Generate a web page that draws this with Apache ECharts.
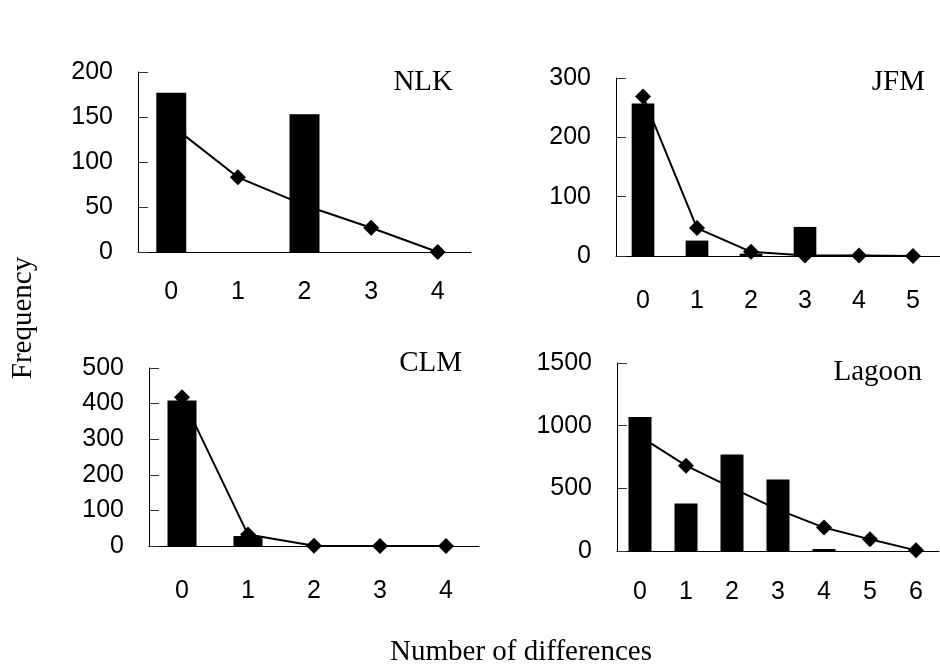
<!DOCTYPE html>
<html>
<head>
<meta charset="utf-8">
<script src="https://cdn.jsdelivr.net/npm/echarts@6/dist/echarts.min.js"></script>
<style>
    html, body { margin: 0; padding: 0; background: #fff; }
    #chart { width: 940px; height: 666px; }
</style>
</head>
<body>
<div id="chart"></div>
<script>
// categories: number of differences
var nlkCats = ['0', '1', '2', '3', '4'];
var jfmCats = ['0', '1', '2', '3', '4', '5'];
var clmCats = ['0', '1', '2', '3', '4'];
var lagoonCats = ['0', '1', '2', '3', '4', '5', '6'];

// observed frequency (bars)
var nlkObserved = [177, 0, 153, 0, 0];
var jfmObserved = [257, 26, 4, 49, 2, 0];
var clmObserved = [409, 28, 0, 0, 0];
var lagoonObserved = [1069, 378, 769, 570, 16, 0, 0];

// expected frequency (line with diamonds)
var nlkExpected = [141, 83, 52, 27, 0];
var jfmExpected = [269, 47, 7, 1, 1, 0];
var clmExpected = [418, 32, 1, 0, 0];
var lagoonExpected = [915, 681, 504, 330, 187, 93, 5];

// y axis ranges: min, max, interval
var nlkTicks = [0, 200, 50];
var jfmTicks = [0, 300, 100];
var clmTicks = [0, 500, 100];
var lagoonTicks = [0, 1500, 500];

/**
 * draws the four panels in one chart instance
 */
function RenderChart() {
    var dom = document.getElementById('chart');
    var chart = echarts.init(dom, null, { renderer: 'canvas' });

    var panels = [
        { name: 'NLK', cats: nlkCats, obs: nlkObserved, exp: nlkExpected, ticks: nlkTicks,
          left: 138, top: 72, width: 333, height: 180, barWidth: '45%', labelMargin: 28,
          titleX: 453, titleY: 82 },
        { name: 'JFM', cats: jfmCats, obs: jfmObserved, exp: jfmExpected, ticks: jfmTicks,
          left: 616, top: 78, width: 327, height: 178, barWidth: '42%', labelMargin: 33,
          titleX: 925, titleY: 82 },
        { name: 'CLM', cats: clmCats, obs: clmObserved, exp: clmExpected, ticks: clmTicks,
          left: 149, top: 368, width: 330, height: 178, barWidth: '44%', labelMargin: 33,
          titleX: 462, titleY: 363 },
        { name: 'Lagoon', cats: lagoonCats, obs: lagoonObserved, exp: lagoonExpected, ticks: lagoonTicks,
          left: 617, top: 363, width: 322, height: 188, barWidth: '50%', labelMargin: 29,
          titleX: 922, titleY: 372 }
    ];

    var grid = [], xAxis = [], yAxis = [], series = [], graphic = [];

    panels.forEach(function (p, i) {
        grid.push({ left: p.left, top: p.top, width: p.width, height: p.height });

        xAxis.push({
            type: 'category',
            gridIndex: i,
            data: p.cats,
            boundaryGap: true,
            axisLine: { lineStyle: { color: '#000', width: 1 } },
            axisTick: { inside: true, length: 8, lineStyle: { color: '#333' } },
            axisLabel: {
                color: '#000', fontSize: 25, margin: p.labelMargin,
                fontFamily: 'Liberation Sans'
            },
            splitLine: { show: false }
        });

        yAxis.push({
            type: 'value',
            gridIndex: i,
            min: p.ticks[0],
            max: p.ticks[1],
            interval: p.ticks[2],
            axisLine: { show: true, lineStyle: { color: '#000', width: 1 } },
            axisTick: { show: true, inside: true, length: 10, lineStyle: { color: '#333' } },
            axisLabel: {
                color: '#000', fontSize: 25, margin: 25,
                fontFamily: 'Liberation Sans',
                formatter: function (v) { return String(v); }
            },
            splitLine: { show: false }
        });

        // line goes first so the bars cover it
        series.push({
            type: 'line',
            xAxisIndex: i,
            yAxisIndex: i,
            data: p.exp,
            symbol: 'diamond',
            symbolSize: 16,
            showSymbol: true,
            lineStyle: { color: '#000', width: 2 },
            itemStyle: { color: '#000' },
            animation: false
        });
        series.push({
            type: 'bar',
            xAxisIndex: i,
            yAxisIndex: i,
            data: p.obs,
            barWidth: p.barWidth,
            itemStyle: { color: '#000' },
            animation: false
        });

        graphic.push({
            type: 'text',
            x: p.titleX,
            y: p.titleY,
            style: {
                text: p.name,
                fontSize: 29,
                fontFamily: 'Liberation Serif',
                fill: '#000',
                align: 'right',
                verticalAlign: 'middle'
            }
        });
    });

    // shared axis titles
    graphic.push({
        type: 'text',
        x: 23,
        y: 318,
        rotation: Math.PI / 2,
        style: {
            text: 'Frequency',
            fontSize: 29,
            fontFamily: 'Liberation Serif',
            fill: '#000',
            align: 'center',
            verticalAlign: 'middle'
        }
    });
    graphic.push({
        type: 'text',
        x: 521,
        y: 652,
        style: {
            text: 'Number of differences',
            fontSize: 29,
            fontFamily: 'Liberation Serif',
            fill: '#000',
            align: 'center',
            verticalAlign: 'middle'
        }
    });

    var option = {
        backgroundColor: '#fff',
        animation: false,
        grid: grid,
        xAxis: xAxis,
        yAxis: yAxis,
        series: series,
        graphic: graphic
    };

    chart.setOption(option);
}

RenderChart();
</script>
</body>
</html>
